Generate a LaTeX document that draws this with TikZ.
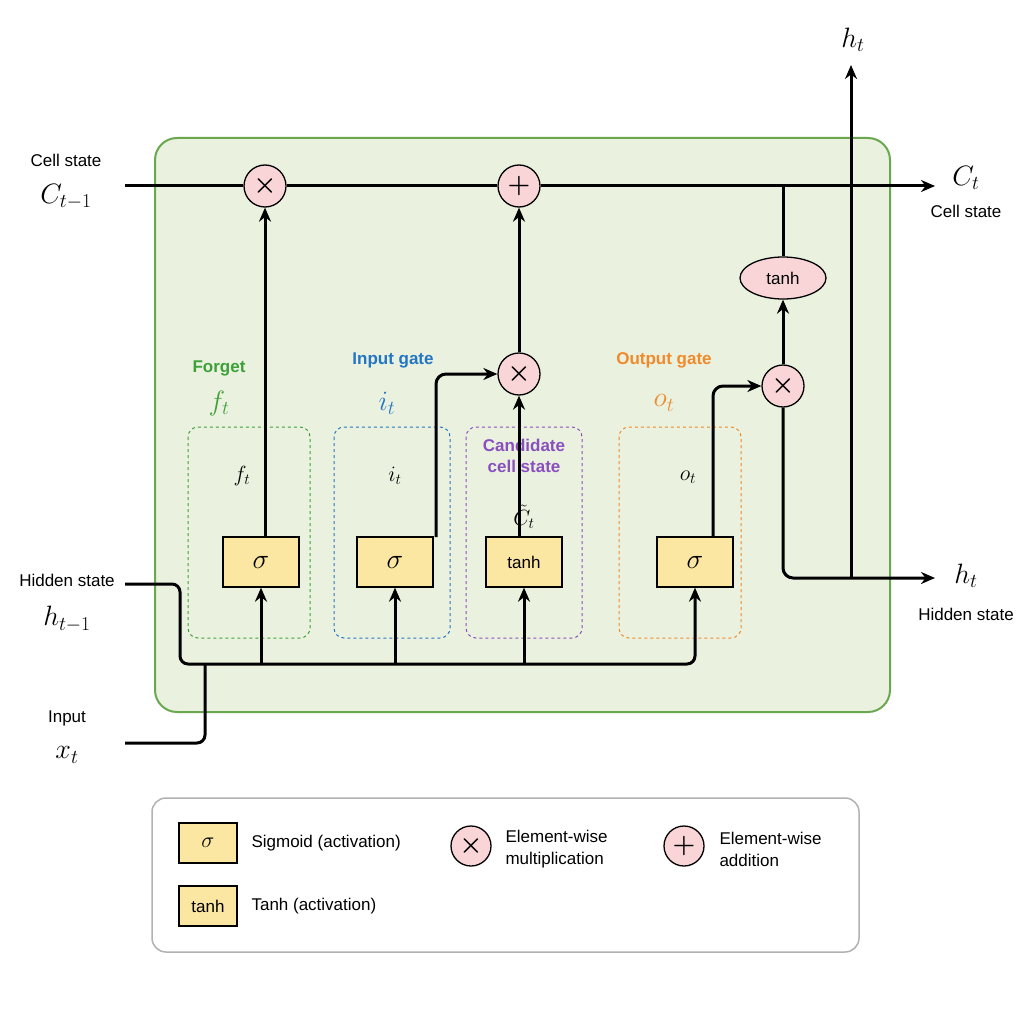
\documentclass[tikz,border=0pt]{standalone}
\usepackage{fix-cm}
\usepackage{fontspec}
\setmainfont{Liberation Sans}
\usetikzlibrary{arrows.meta,shapes.geometric}
\definecolor{gbg}{HTML}{EAF2DF}\definecolor{gbd}{HTML}{6AA84F}
\definecolor{pk}{HTML}{F9D5D8}\definecolor{yl}{HTML}{FBE6A2}
\definecolor{fg}{HTML}{3FA03A}\definecolor{ib}{HTML}{2476C3}
\definecolor{cp}{HTML}{8A4FBF}\definecolor{og}{HTML}{F08A2C}
\begin{document}
\begin{tikzpicture}[x=1pt,y=-1pt,
 ln/.style={line width=3pt,line join=round},
 ar/.style={ln,-{Stealth[length=14pt,width=12pt]}},
 op/.style={circle,draw,line width=1.3pt,fill=pk,minimum size=42pt,inner sep=0pt,font=\fontsize{26}{26}\selectfont\boldmath},
 act/.style={draw,line width=1.3pt,fill=yl,minimum width=76pt,minimum height=50pt,inner sep=0pt},
 dbox/.style={draw,dashed,line width=1pt,rounded corners=10pt},
 lbl/.style={font=\fontsize{17}{22}\selectfont},
 glbl/.style={font=\fontsize{17}{21}\selectfont\bfseries},
 mth/.style={font=\fontsize{28}{28}\selectfont},
 smth/.style={font=\fontsize{22}{22}\selectfont}]
\useasboundingbox (0,0) rectangle (1024,1024);
\fill[white] (0,0) rectangle (1024,1024);
\draw[gbd,fill=gbg,line width=2pt,rounded corners=22pt] (155,138) rectangle (890,712);
% dashed boxes
\draw[dbox,fg] (188,427) rectangle (310,638);
\draw[dbox,ib] (334,427) rectangle (450,638);
\draw[dbox,cp] (466,427) rectangle (582,638);
\draw[dbox,og] (619,427) rectangle (741,638);
% nodes
\node[op] (m1) at (265,186) {$\times$};
\node[op] (a1) at (519,186) {$+$};
\node[op] (m2) at (519,374) {$\times$};
\node[op] (m3) at (783,386) {$\times$};
\node[ellipse,draw,line width=1.3pt,fill=pk,minimum width=86pt,minimum height=42pt,lbl] (th) at (783,278) {tanh};
\node[act,font=\fontsize{28}{28}\selectfont] (sf) at (261,562) {$\sigma$};
\node[act,font=\fontsize{28}{28}\selectfont] (si) at (395,562) {$\sigma$};
\node[act,lbl] (tc) at (524,562) {tanh};
\node[act,font=\fontsize{28}{28}\selectfont] (so) at (695,562) {$\sigma$};
% texts
\node[lbl] (t1) at (66,160) {Cell state};
\node[mth] (t2) at (66,197) {$C_{t-1}$};
\node[mth] (t3) at (966,178) {$C_t$};
\node[lbl] (t4) at (966,211) {Cell state};
\node[mth] (t5) at (853,40) {$h_t$};
\node[mth] (t6) at (966,576) {$h_t$};
\node[lbl] (t7) at (966,614) {Hidden state};
\node[lbl] (t8) at (67,580) {Hidden state};
\node[mth] (t9) at (67,619) {$h_{t-1}$};
\node[lbl] (t10) at (67,718) {Input};
\node[mth] (t11) at (67,755) {$x_t$};
\node[glbl,fg] (l1) at (219,368) {Forget};
\node[mth,fg] (l2) at (219,403) {$f_t$};
\node[glbl,ib] (l3) at (393,360) {Input gate};
\node[mth,ib] (l4) at (387,403) {$i_t$};
\node[glbl,og] (l5) at (664,360) {Output gate};
\node[mth,og] (l6) at (664,403) {$o_t$};
\node[glbl,cp,align=center] (l7) at (524,456) {Candidate\\cell state};
\node[smth] (g1) at (242,476) {$f_t$};
\node[smth] (g2) at (395,476) {$i_t$};
\node[smth] (g3) at (524,517) {$\tilde{C}_t$};
\node[smth] (g4) at (688,477) {$o_t$};
% coordinates
\coordinate (cin) at (125,186); \coordinate (cout) at (935,186);
\coordinate (hin) at (125,584); \coordinate (xin) at (125,743);
\coordinate (hout) at (935,578); \coordinate (htop) at (851,65);
% connectors
\draw[ar] (cin) -- (m1) -- (a1) -- (cout);
\draw[ar] (sf.north -| m1) -- (m1);
\draw[ar] (m2) -- (a1);
\draw[ar] (tc.north -| m2) -- (m2);
\draw[ar,rounded corners=10pt] (436,537) -- (436,374) -- (m2.west);
\draw[ar,rounded corners=10pt] (713,537) -- (713,386) -- (m3.west);
\draw[ln] (783,186) -- (th.north);
\draw[ar] (m3) -- (th);
\draw[ar,rounded corners=10pt] (m3.south) -- (783,578) -- (hout);
\draw[ar] (851,578) -- (htop);
\draw[ar,rounded corners=8pt] (hin) -- (180,584) -- (180,664) -- (695,664) -- (so.south);
\draw[ln,rounded corners=8pt] (xin) -- (205,743) -- (205,664);
\draw[ar] (261,664) -- (sf);
\draw[ar] (395,664) -- (si);
\draw[ar] (524,664) -- (tc);
% legend
\draw[gray!60,fill=white,line width=1.5pt,rounded corners=14pt] (152,798) rectangle (859,952);
\node[act,minimum width=58pt,minimum height=40pt,font=\fontsize{22}{22}\selectfont] (k1) at (208,843) {$\sigma$};
\node[act,minimum width=58pt,minimum height=40pt,lbl] (k2) at (208,906) {tanh};
\node[lbl,anchor=west] (k3) at (248,843) {Sigmoid (activation)};
\node[lbl,anchor=west] (k4) at (248,906) {Tanh (activation)};
\node[op,minimum size=40pt] (k5) at (471,846) {$\times$};
\node[lbl,anchor=west,align=left] (k6) at (502,849) {Element-wise\\multiplication};
\node[op,minimum size=40pt] (k7) at (684,846) {$+$};
\node[lbl,anchor=west,align=left] (k8) at (716,849) {Element-wise\\addition};
\end{tikzpicture}
\end{document}
